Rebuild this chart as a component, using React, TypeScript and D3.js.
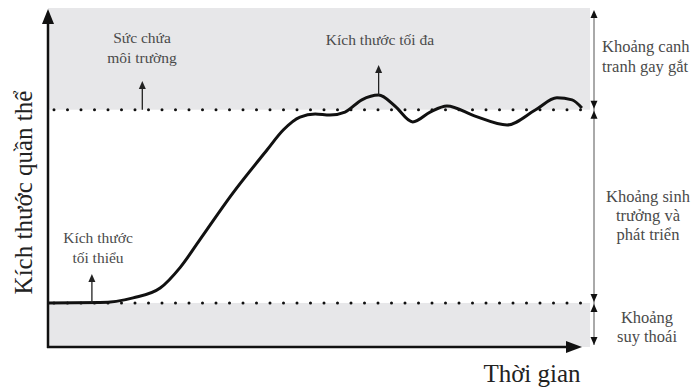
import React from "react";
import * as d3 from "d3";

// population size over time (arbitrary units, 0-100)
const timePoints = [0, 9.6, 15.7, 20.7, 24.4, 28, 34.1, 40.4, 43.4, 46.5, 49.3, 52, 54.8, 57.9, 61, 64, 67.3, 70.5, 73.6, 78.8, 84.7, 89.9, 93.9, 96.7, 98.5];
const sizeValues = [13, 13.1, 14.5, 17.4, 23.5, 31.6, 45.4, 58.1, 64, 67.8, 68.7, 68.4, 69.3, 72.9, 74.3, 71.1, 66.4, 69.3, 71.1, 68.1, 65.5, 69.9, 73.5, 72.9, 70.5];

const minSize = 13; // kích thước tối thiểu
const maxSize = 70; // sức chứa môi trường

const yLabel = "Kích thước quần thể";
const xLabel = "Thời gian";
const zoneLabels = [
  ["Khoảng canh", "tranh gay gắt"],
  ["Khoảng sinh", "trưởng và", "phát triển"],
  ["Khoảng", "suy thoái"],
];

const W = 695;
const H = 389;

const App = () => {
  const x = d3.scaleLinear().domain([0, 100]).range([48, 590]);
  const y = d3.scaleLinear().domain([0, 100]).range([347, 8]);

  const data = timePoints.map((t, i) => ({ t, v: sizeValues[i] }));
  const line = d3
    .line<{ t: number; v: number }>()
    .x((d) => x(d.t))
    .y((d) => y(d.v))
    .curve(d3.curveMonotoneX);

  const font = "'Liberation Serif', 'DejaVu Serif', serif";
  const grey = "#4a4a4a";
  const fill = "#e7e7e9";

  const x0 = x(0);
  const x1 = x(100);
  const yMin = y(minSize);
  const yMax = y(maxSize);
  const yTop = y(100);
  const yBot = y(0);
  const bx = 594; // bracket line

  const peak = data[14];

  // small filled arrowhead, tip at (px,py); dir 1 = points up, -1 = points down
  const head = (px: number, py: number, dir: number, w = 4, h = 8) =>
    `M${px},${py} L${px - w},${py + dir * h} L${px + w},${py + dir * h} Z`;

  return (
    <svg
      width={W}
      height={H}
      style={{ position: "absolute", left: 0, top: 0, background: "#fff" }}
      fontFamily={font}
    >
      {/* shaded zones */}
      <rect x={x0} y={yTop} width={x1 - x0} height={yMax - yTop} fill={fill} />
      <rect x={x0} y={yMin} width={x1 - x0} height={yBot - yMin} fill={fill} />

      {/* dotted limits */}
      {[yMax, yMin].map((yy, i) => (
        <line
          key={i}
          x1={x0 + 6}
          x2={x1}
          y1={yy}
          y2={yy}
          stroke="#111"
          strokeWidth={3}
          strokeLinecap="round"
          strokeDasharray="0 13.5"
        />
      ))}

      {/* curve */}
      <path d={line(data) || ""} fill="none" stroke="#111" strokeWidth={3} />

      {/* axes */}
      <line x1={x0} x2={x0} y1={yBot + 1} y2={22} stroke="#111" strokeWidth={2.5} />
      <path d={head(x0, 9, 1, 6, 15)} fill="#111" />
      <line x1={x0 - 1} x2={568} y1={yBot} y2={yBot} stroke="#111" strokeWidth={2.5} />
      <path d={`M582,${yBot} L566,${yBot - 6} L566,${yBot + 6} Z`} fill="#111" />

      {/* pointer arrows */}
      <line x1={x(17.4)} x2={x(17.4)} y1={yMax} y2={88} stroke="#222" strokeWidth={1.3} />
      <path d={head(x(17.4), 81, 1, 3.5, 8)} fill="#222" />
      <line x1={x(peak.t)} x2={x(peak.t)} y1={y(peak.v)} y2={72} stroke="#222" strokeWidth={1.3} />
      <path d={head(x(peak.t), 65, 1, 3.5, 8)} fill="#222" />
      <line x1={x(8.1)} x2={x(8.1)} y1={yMin} y2={281} stroke="#222" strokeWidth={1.3} />
      <path d={head(x(8.1), 274, 1, 3.5, 8)} fill="#222" />

      {/* pointer labels */}
      <g fill={grey} fontSize={15.5} textAnchor="middle">
        <text x={142} y={43}>Sức chứa</text>
        <text x={142} y={63}>môi trường</text>
        <text x={380} y={45}>Kích thước tối đa</text>
        <text x={98} y={243}>Kích thước</text>
        <text x={98} y={263}>tối thiểu</text>
      </g>

      {/* right bracket */}
      <line x1={bx} x2={bx} y1={12} y2={yBot - 2} stroke="#555" strokeWidth={1} />
      <path d={head(bx, 10, 1, 3.5, 8)} fill="#111" />
      <path d={head(bx, yMax - 1, -1, 3.5, 8)} fill="#111" />
      <path d={head(bx, yMax + 1, 1, 3.5, 8)} fill="#111" />
      <path d={head(bx, yMin - 1, -1, 3.5, 8)} fill="#111" />
      <path d={head(bx, yMin + 1, 1, 3.5, 8)} fill="#111" />
      <path d={head(bx, yBot - 2, -1, 3.5, 8)} fill="#111" />

      <g fill={grey} fontSize={16.5}>
        {zoneLabels[0].map((s, i) => (
          <text key={i} x={602} y={52 + i * 20}>
            {s}
          </text>
        ))}
      </g>
      <g fill={grey} fontSize={16.5} textAnchor="middle">
        {zoneLabels[1].map((s, i) => (
          <text key={i} x={648} y={202 + i * 19}>
            {s}
          </text>
        ))}
        {zoneLabels[2].map((s, i) => (
          <text key={i} x={647} y={323 + i * 19}>
            {s}
          </text>
        ))}
      </g>

      {/* axis titles */}
      <text x={532} y={382} fontSize={25} textAnchor="middle" fill="#222">
        {xLabel}
      </text>
      <text
        transform={`translate(32,${(yTop + yBot) / 2 + 15}) rotate(-90)`}
        fontSize={25}
        textAnchor="middle"
        fill="#222"
      >
        {yLabel}
      </text>
    </svg>
  );
};

export default App;
